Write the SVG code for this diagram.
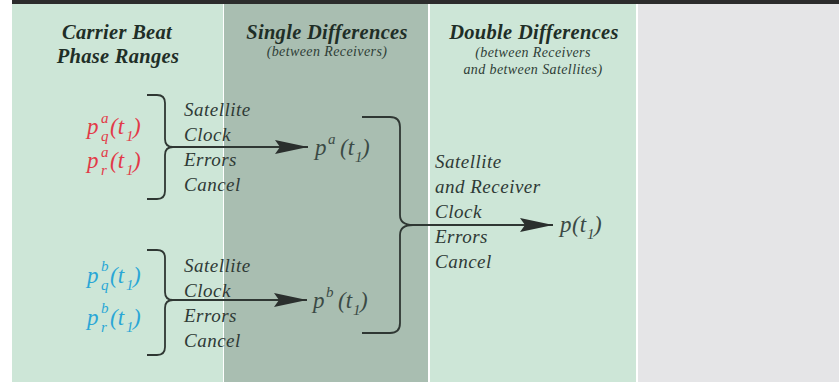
<svg xmlns="http://www.w3.org/2000/svg" width="839" height="382" viewBox="0 0 839 382">
<style>
.hd{font-family:"Liberation Serif",serif;font-style:italic;font-weight:bold;font-size:20.5px;letter-spacing:0.3px;fill:#1f2e27;text-anchor:middle}
.sh{font-family:"Liberation Serif",serif;font-style:italic;font-size:14px;letter-spacing:0.4px;fill:#2e3d36;text-anchor:middle}
.lb{font-family:"Liberation Serif",serif;font-style:italic;font-size:19px;letter-spacing:0.5px;fill:#2f3a36}
.f{font-family:"Liberation Serif",serif;font-style:italic;font-size:23px}
.s{font-family:"Liberation Serif",serif;font-style:italic;font-size:15px}
.red{fill:#e23a48}
.blue{fill:#2aa6d6}
.gry{fill:#3b4a45}
.br{fill:none;stroke:#2f3733;stroke-width:1.8}
</style>
<defs>
<marker id="ah" markerUnits="userSpaceOnUse" markerWidth="34" markerHeight="14" refX="33" refY="7" orient="auto">
<path d="M0,0 L33,7 L0,14 L5,7 Z" fill="#2a2f2d"/>
</marker>
</defs>
<rect x="0" y="0" width="839" height="382" fill="#ffffff"/>
<g id="panels">
<rect x="12" y="0" width="211" height="382" fill="#cde6d7"/>
<rect x="224" y="0" width="204" height="382" fill="#a9beb1"/>
<rect x="430" y="0" width="206" height="382" fill="#cde6d7"/>
<rect x="638" y="0" width="201" height="382" fill="#e5e5e7"/>
<rect x="12" y="0" width="827" height="4" fill="#2c2c2c"/>
</g>
<g id="headers">
<text class="hd" x="117" y="39">Carrier Beat</text>
<text class="hd" x="118" y="63">Phase Ranges</text>
<text class="hd" x="327" y="39">Single Differences</text>
<text class="sh" x="327" y="56">(between Receivers)</text>
<text class="hd" x="534" y="39">Double Differences</text>
<text class="sh" x="533" y="57">(between Receivers</text>
<text class="sh" x="533" y="74">and between Satellites)</text>
</g>
<g id="connectors">
<path class="br" d="M147,95 H157 Q165,95 165,103 V139 Q165,147 173,147 Q165,147 165,155 V191 Q165,199 157,199 H147"/>
<line class="br" x1="173" y1="147" x2="308" y2="147" marker-end="url(#ah)"/>
<path class="br" d="M147,250 H157 Q165,250 165,258 V292 Q165,300 173,300 Q165,300 165,308 V347 Q165,355 157,355 H147"/>
<line class="br" x1="173" y1="300" x2="307" y2="300" marker-end="url(#ah)"/>
<path class="br" d="M362,117 H390 Q400,117 400,127 V215 Q400,225 413,225 Q400,225 400,235 V323 Q400,333 390,333 H362"/>
<line class="br" x1="413" y1="225" x2="553" y2="225" marker-end="url(#ah)"/>
</g>
<g id="n-paq">
<text class="f red" x="87" y="134">p</text><text class="s red" x="101" y="123">a</text><text class="s red" x="101" y="141">q</text>
<text class="f red" x="110" y="134">(t</text><text class="s red" x="126" y="141">1</text><text class="f red" x="133" y="134">)</text>
</g>
<g id="n-par">
<text class="f red" x="87" y="168">p</text><text class="s red" x="101" y="157">a</text><text class="s red" x="101" y="175">r</text>
<text class="f red" x="110" y="168">(t</text><text class="s red" x="126" y="175">1</text><text class="f red" x="133" y="168">)</text>
</g>
<g id="n-pbq">
<text class="f blue" x="87" y="283">p</text><text class="s blue" x="101" y="271">b</text><text class="s blue" x="101" y="290">q</text>
<text class="f blue" x="110" y="283">(t</text><text class="s blue" x="126" y="290">1</text><text class="f blue" x="133" y="283">)</text>
</g>
<g id="n-pbr">
<text class="f blue" x="87" y="325">p</text><text class="s blue" x="101" y="313">b</text><text class="s blue" x="101" y="332">r</text>
<text class="f blue" x="110" y="325">(t</text><text class="s blue" x="126" y="332">1</text><text class="f blue" x="133" y="325">)</text>
</g>
<g id="n-label1">
<text class="lb" x="184" y="116">Satellite</text>
<text class="lb" x="184" y="141">Clock</text>
<text class="lb" x="184" y="166">Errors</text>
<text class="lb" x="184" y="191">Cancel</text>
</g>
<g id="n-label2">
<text class="lb" x="184" y="272">Satellite</text>
<text class="lb" x="184" y="297">Clock</text>
<text class="lb" x="184" y="322">Errors</text>
<text class="lb" x="184" y="347">Cancel</text>
</g>
<g id="n-pa">
<text class="f gry" x="315" y="155">p</text><text class="s gry" x="328" y="144">a</text>
<text class="f gry" x="340" y="155">(t</text><text class="s gry" x="355" y="162">1</text><text class="f gry" x="362" y="155">)</text>
</g>
<g id="n-pb">
<text class="f gry" x="313" y="308">p</text><text class="s gry" x="326" y="297">b</text>
<text class="f gry" x="338" y="308">(t</text><text class="s gry" x="353" y="315">1</text><text class="f gry" x="360" y="308">)</text>
</g>
<g id="n-label3">
<text class="lb" x="435" y="168">Satellite</text>
<text class="lb" x="435" y="193">and Receiver</text>
<text class="lb" x="435" y="218">Clock</text>
<text class="lb" x="435" y="243">Errors</text>
<text class="lb" x="435" y="268">Cancel</text>
</g>
<g id="n-p">
<text class="f gry" x="560" y="232">p</text>
<text class="f gry" x="572" y="232">(t</text><text class="s gry" x="587" y="239">1</text><text class="f gry" x="594" y="232">)</text>
</g>
</svg>
